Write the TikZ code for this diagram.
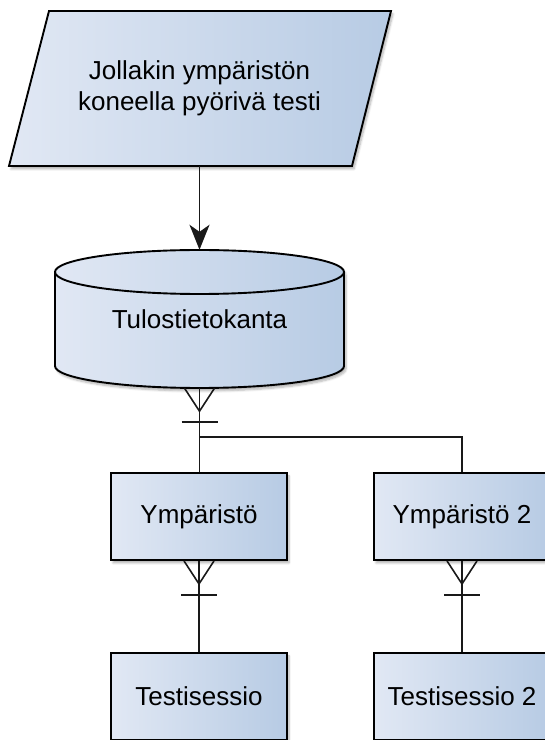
\documentclass[tikz,border=0pt]{standalone}
\usepackage{fontspec}
\setmainfont{Liberation Sans}
\usetikzlibrary{arrows.meta,shadows.blur}
\definecolor{fillL}{HTML}{E1E8F4}
\definecolor{fillR}{HTML}{B7CBE4}
\tikzset{
  shapefill/.style={left color=fillL, right color=fillR, draw=black, line width=1.9pt,
    blur shadow={shadow xshift=2pt, shadow yshift=-3pt, shadow blur steps=6, shadow opacity=30}},
  txt/.style={inner sep=0pt, font=\fontsize{26}{31}\selectfont, align=center},
  entity/.style={rectangle, shapefill, txt, minimum width=176pt, minimum height=87pt},
  link/.style={line width=1.6pt, draw=black!90},
  manyone/.pic={
    \draw[link] (-15,0) -- (0,-23) -- (15,0);
    \draw[link] (-18,-34) -- (18,-34);
  }
}
\begin{document}
\begin{tikzpicture}[x=1pt,y=1pt]
\clip (0,0) rectangle (545,740);

% input parallelogram
\path[shapefill] (49,729) -- (391,729) -- (352,574) -- (9,574) -- cycle;
\node[txt, minimum width=300pt, minimum height=155pt] (io) at (199.5,651.5)
  {Jollakin ympäristön\\koneella pyörivä testi};

% database cylinder
\path[shapefill] (55,468) -- (55,374)
  arc[start angle=180, end angle=360, x radius=144.5, y radius=22] -- (344,468)
  arc[start angle=0, end angle=180, x radius=144.5, y radius=22] -- cycle;
\draw[line width=1.9pt, draw=black] (55,468)
  arc[start angle=180, end angle=360, x radius=144.5, y radius=22];
\node[txt, minimum width=289pt, minimum height=138pt] (db) at (199.5,421) {Tulostietokanta};

% entities
\node[entity] (env1) at (199,223.5) {Ympäristö};
\node[entity] (env2) at (462,223.5) {Ympäristö 2};
\node[entity] (ses1) at (199,43.5) {Testisessio};
\node[entity] (ses2) at (462,43.5) {Testisessio 2};

% connectors
\draw[link, -{Stealth[length=25pt, width=20pt, inset=7pt]}] (io.south) -- (db.north);

\draw[link] (db.south) -- (db.south |- env1.north);
\pic at (db.south) {manyone};
\coordinate (junc) at ([yshift=-49pt]db.south);
\draw[link] (junc) -| (env2.north);

\draw[link] (env1.south) -- (ses1.north);
\pic at (env1.south) {manyone};
\draw[link] (env2.south) -- (ses2.north);
\pic at (env2.south) {manyone};
\end{tikzpicture}
\end{document}
